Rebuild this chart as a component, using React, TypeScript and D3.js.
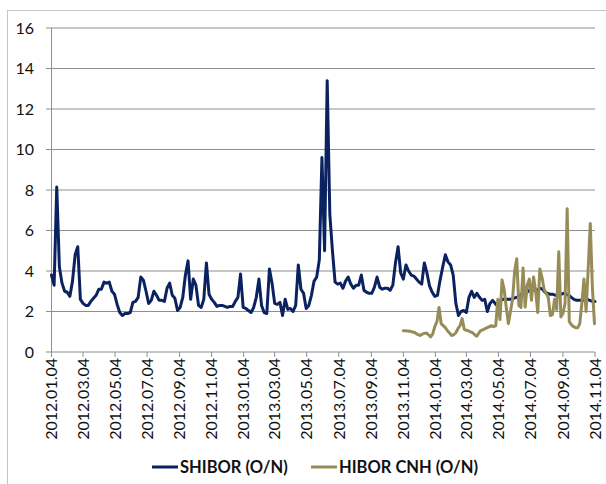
import * as d3 from "d3";

// SHIBOR overnight, one reading every 5 days from 2012-01-04
const SHIBOR_START = "2012-01-04";
const SHIBOR_STEP_DAYS = 5;
const shibor = [
  3.8, 3.3, 8.15, 4.2, 3.4, 3.0, 2.95, 2.75, 3.5, 4.8,
  5.2, 2.6, 2.4, 2.3, 2.3, 2.5, 2.65, 2.8, 3.1, 3.1,
  3.45, 3.4, 3.45, 3.0, 2.85, 2.35, 1.95, 1.8, 1.9, 1.9,
  1.95, 2.45, 2.5, 2.7, 3.7, 3.55, 3.0, 2.4, 2.55, 3.0,
  2.8, 2.55, 2.55, 2.5, 3.15, 3.4, 2.8, 2.65, 2.05, 2.2,
  2.7, 3.8, 4.5, 2.6, 3.6, 3.3, 2.3, 2.2, 2.6, 4.4,
  2.85, 2.6, 2.45, 2.25, 2.3, 2.3, 2.25, 2.2, 2.25, 2.25,
  2.5, 2.7, 3.85, 2.2, 2.15, 2.05, 1.95, 2.2, 2.7, 3.6,
  2.3, 1.95, 1.9, 4.1, 3.4, 2.4, 2.35, 2.45, 1.8, 2.6,
  2.1, 2.15, 2.0, 2.3, 4.3, 3.1, 2.9, 2.15, 2.3, 2.8,
  3.5, 3.7, 4.55, 9.6, 5.0, 13.4, 6.8, 5.0, 3.45, 3.35,
  3.4, 3.15, 3.5, 3.7, 3.35, 3.15, 3.3, 3.3, 3.8, 3.05,
  2.95, 2.9, 2.9, 3.2, 3.7, 3.2, 3.1, 3.15, 3.15, 3.05,
  3.3, 4.4, 5.2, 3.9, 3.6, 4.3, 4.0, 3.8, 3.75, 3.6,
  3.45, 3.35, 4.4, 3.9, 3.25, 2.95, 2.75, 2.8, 3.55, 4.2,
  4.8, 4.45, 4.3, 3.8, 2.4, 1.8, 2.0, 2.05, 1.95, 2.7,
  3.0, 2.7, 2.9, 2.7, 2.55, 2.6, 2.0, 2.4, 2.55, 2.4,
  2.25, 2.55, 2.6, 2.6, 2.6, 2.6, 2.65, 2.7, 2.75, 2.85,
  2.9, 2.95, 3.05, 3.1, 3.05, 3.05, 3.15, 3.1, 2.95, 2.9,
  2.85, 2.85, 2.8, 2.8, 2.85, 2.9, 2.85, 2.8, 2.7, 2.6,
  2.55, 2.55, 2.55, 2.55, 2.6, 2.55, 2.5, 2.5,
];

// HIBOR CNH overnight, one reading every 4 days from 2013-11-04
const HIBOR_START = "2013-11-04";
const HIBOR_STEP_DAYS = 4;
const hibor = [
  1.05, 1.05, 1.04, 1.03, 1.0, 0.98, 0.92, 0.86, 0.82, 0.88,
  0.92, 0.94, 0.85, 0.75, 0.9, 1.25, 1.5, 2.2, 1.4, 1.3,
  1.2, 1.05, 0.94, 0.82, 0.85, 0.95, 1.15, 1.3, 1.65, 1.12,
  1.07, 1.05, 0.99, 0.95, 0.85, 0.78, 0.95, 1.07, 1.1, 1.15,
  1.2, 1.25, 1.3, 1.25, 1.3, 2.6, 1.6, 3.55, 3.1, 2.2,
  1.4, 2.0, 2.6, 4.0, 4.6, 2.3, 2.2, 4.15, 2.22, 3.3,
  3.6, 2.55, 3.7, 3.0, 1.95, 4.1, 3.7, 3.1, 2.9, 2.7,
  1.8, 1.85, 2.6, 2.1, 4.95, 1.73, 1.9, 2.4, 7.08, 1.5,
  1.35, 1.25, 1.2, 1.2, 1.4, 2.4, 3.6, 2.0, 4.1, 6.35,
  3.2, 1.4,
];

const xTickLabels = [
  "2012.01.04", "2012.03.04", "2012.05.04", "2012.07.04", "2012.09.04",
  "2012.11.04", "2013.01.04", "2013.03.04", "2013.05.04", "2013.07.04",
  "2013.09.04", "2013.11.04", "2014.01.04", "2014.03.04", "2014.05.04",
  "2014.07.04", "2014.09.04", "2014.11.04",
];
const yTicks = [0, 2, 4, 6, 8, 10, 12, 14, 16];

const series = [
  { name: "SHIBOR (O/N)", color: "#0b2260", start: SHIBOR_START, step: SHIBOR_STEP_DAYS, values: shibor },
  { name: "HIBOR CNH (O/N)", color: "#978c58", start: HIBOR_START, step: HIBOR_STEP_DAYS, values: hibor },
];

const W = 606;
const H = 484;
const FONT = "Lato, 'Open Sans', sans-serif";

export default function App() {
  const parseTick = d3.utcParse("%Y.%m.%d");
  const parseDay = d3.utcParse("%Y-%m-%d");
  const tickDates = xTickLabels.map((t) => parseTick(t) as Date);

  const x = d3
    .scaleUtc()
    .domain([tickDates[0], tickDates[tickDates.length - 1]])
    .range([51.5, 595]);
  const y = d3.scaleLinear().domain([0, 16]).range([352, 28]);

  const line = d3
    .line<[Date, number]>()
    .x((d) => x(d[0]))
    .y((d) => y(d[1]));

  const paths = series.map((s) => {
    const start = parseDay(s.start) as Date;
    const pts = s.values.map(
      (v, i) => [d3.utcDay.offset(start, i * s.step), v] as [Date, number]
    );
    return { ...s, d: line(pts) || "" };
  });

  return (
    <svg
      width={W}
      height={H}
      style={{ position: "absolute", left: 0, top: 0, background: "#fff" }}
      fontFamily={FONT}
    >
      <rect x={7.5} y={10.5} width={620} height={500} fill="#fff" stroke="#c4c4c4" />

      {yTicks.map((t) => (
        <g key={t}>
          {t > 0 && (
            <line x1={x.range()[0]} x2={x.range()[1]} y1={y(t)} y2={y(t)} stroke="#8e8e8e" strokeWidth={1} />
          )}
          <line x1={46} x2={51.5} y1={y(t)} y2={y(t)} stroke="#8e8e8e" />
          <text x={34} y={y(t)} dy="0.36em" textAnchor="end" fontSize={16} fill="#111">
            {t}
          </text>
        </g>
      ))}

      <line x1={51.5} x2={51.5} y1={y(16)} y2={y(0)} stroke="#8e8e8e" />
      <line x1={51.5} x2={595} y1={y(0)} y2={y(0)} stroke="#8e8e8e" />

      {tickDates.map((d, i) => (
        <g key={xTickLabels[i]} transform={`translate(${x(d)},${y(0)})`}>
          <line y1={0} y2={5} stroke="#8e8e8e" />
          <text
            transform="translate(0,6) rotate(-90)"
            textAnchor="end"
            dy="0.36em"
            fontSize={16}
            fill="#111"
          >
            {xTickLabels[i]}
          </text>
        </g>
      ))}

      {paths.map((p) => (
        <path
          key={p.name}
          d={p.d}
          fill="none"
          stroke={p.color}
          strokeWidth={3}
          strokeLinejoin="round"
          strokeLinecap="round"
        />
      ))}

      <g transform="translate(0,467)">
        <line x1={152} x2={178} y1={0} y2={0} stroke={series[0].color} strokeWidth={3} />
        <text x={180} dy="0.36em" fontSize={16.5} fontWeight="bold" fill="#111">
          {series[0].name}
        </text>
        <line x1={311} x2={337} y1={0} y2={0} stroke={series[1].color} strokeWidth={3} />
        <text x={339} dy="0.36em" fontSize={16.5} fontWeight="bold" fill="#111">
          {series[1].name}
        </text>
      </g>
    </svg>
  );
}
